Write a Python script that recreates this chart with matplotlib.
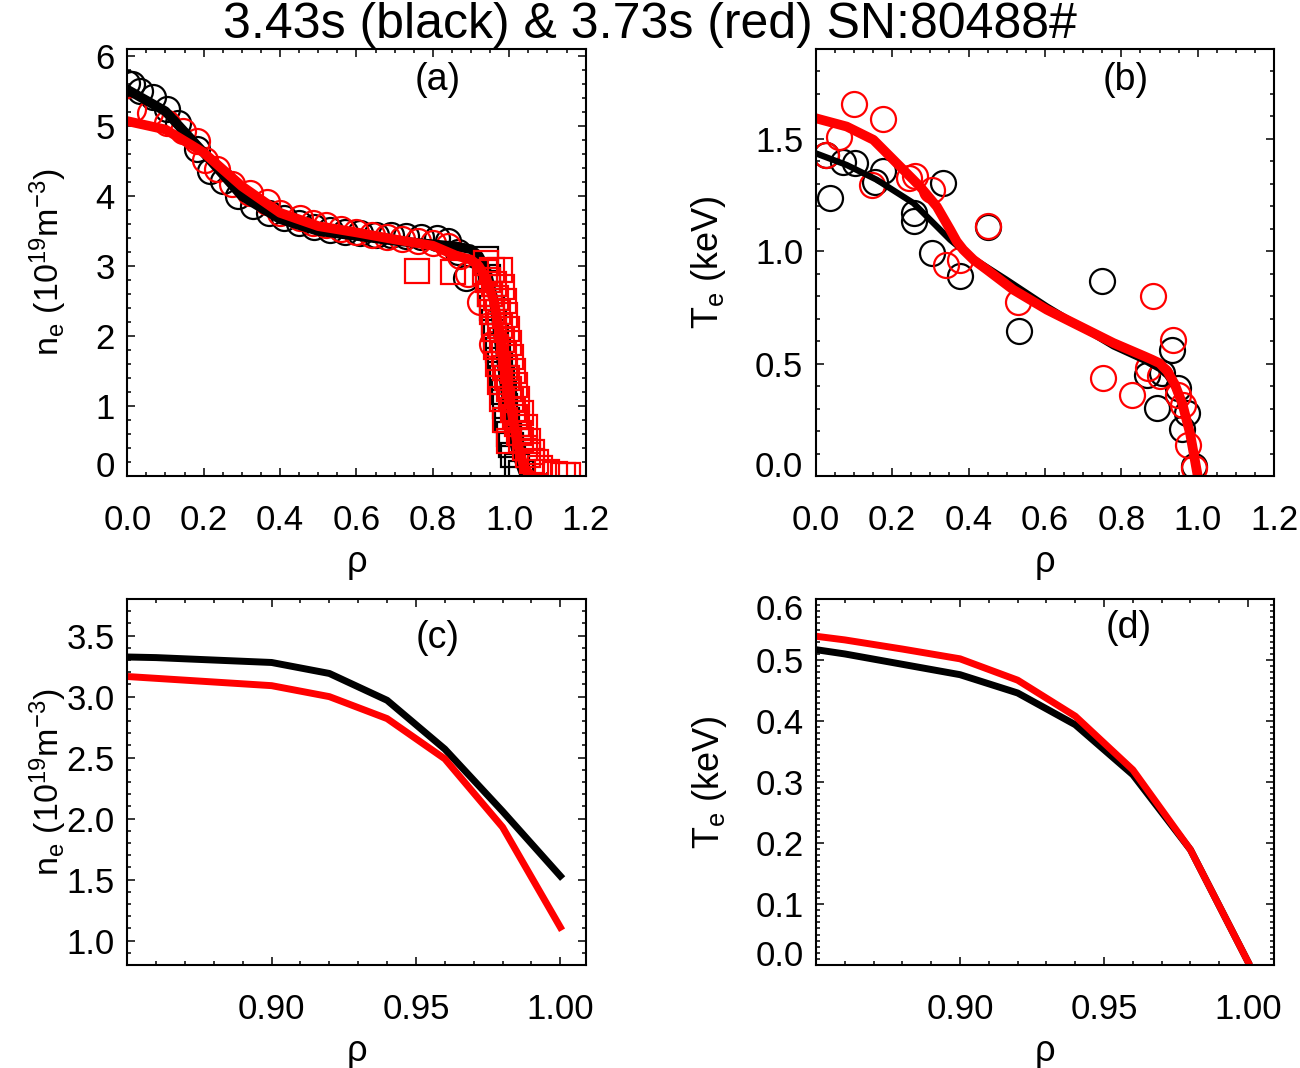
import numpy as np
import matplotlib
matplotlib.use('Agg')
import matplotlib.pyplot as plt
import matplotlib.transforms as mtransforms
from matplotlib.ticker import MultipleLocator, FormatStrFormatter

plt.rcParams['font.family'] = ['Liberation Sans', 'DejaVu Sans']
plt.rcParams['mathtext.fontset'] = 'custom'
plt.rcParams['mathtext.rm'] = 'Liberation Sans'
plt.rcParams['mathtext.it'] = 'Liberation Sans:italic'
plt.rcParams['mathtext.bf'] = 'Liberation Sans:bold'

RED = '#ff0000'

# ---------------- (a) density profile ----------------
ne_blk_circ_rho = [0.0, 0.012, 0.033, 0.068, 0.103, 0.134, 0.182, 0.216, 0.25, 0.29,
                   0.33, 0.37, 0.41, 0.45, 0.49, 0.53, 0.57, 0.61, 0.65, 0.69,
                   0.73, 0.77, 0.81, 0.84, 0.865, 0.888]
ne_blk_circ_val = [5.62, 5.60, 5.50, 5.41, 5.24, 5.05, 4.67, 4.36, 4.22, 4.00,
                   3.86, 3.76, 3.69, 3.62, 3.56, 3.52, 3.49, 3.47, 3.45, 3.44,
                   3.43, 3.42, 3.40, 3.36, 3.20, 2.83]
ne_red_circ_rho = [0.016, 0.059, 0.103, 0.147, 0.182, 0.203, 0.234, 0.273, 0.321, 0.365,
                   0.40, 0.452, 0.487, 0.52, 0.56, 0.60, 0.64, 0.68, 0.72, 0.76,
                   0.80, 0.84, 0.87, 0.893, 0.923, 0.954]
ne_red_circ_val = [5.24, 5.19, 5.05, 4.93, 4.79, 4.52, 4.38, 4.17, 4.05, 3.91,
                   3.76, 3.69, 3.62, 3.58, 3.53, 3.49, 3.45, 3.42, 3.39, 3.36,
                   3.33, 3.28, 3.15, 2.88, 2.48, 1.88]

ne_blk_sq_rho = [0.94, 0.945, 0.95, 0.955, 0.96, 0.965, 0.97, 0.975, 0.98, 0.985,
                 0.99, 0.995, 1.0, 1.005, 1.01, 1.02, 1.03]
ne_blk_sq_val = [3.10, 2.85, 2.60, 2.40, 2.20, 2.00, 1.80, 1.60, 1.40, 1.20,
                 1.00, 0.80, 0.60, 0.45, 0.30, 0.15, 0.05]
ne_red_sq_rho = [0.759, 0.853, 0.936, 0.955, 0.96, 0.965, 0.97, 0.975, 0.98, 0.985,
                 0.99, 0.995, 1.0, 1.005, 1.01, 1.015, 1.02, 1.025, 1.03, 1.04,
                 1.05, 1.06, 1.08, 1.10, 1.12, 1.14, 1.155,
                 0.975, 0.98, 0.985, 0.99, 0.995, 1.0, 1.005, 1.01, 1.015, 1.02,
                 1.03, 1.04, 1.05, 1.06, 1.07,
                 0.94, 0.945, 0.95, 0.955, 0.96, 0.965, 0.97, 0.975, 0.98, 0.99, 1.0]
ne_red_sq_val = [2.93, 2.91, 2.91, 2.95, 2.75, 2.55, 2.35, 2.15, 1.95, 1.75,
                 1.55, 1.40, 1.25, 1.10, 0.95, 0.85, 0.75, 0.62, 0.52, 0.40,
                 0.30, 0.22, 0.12, 0.06, 0.03, 0.02, 0.02,
                 2.95, 2.70, 2.50, 2.30, 2.10, 1.90, 1.70, 1.50, 1.30, 1.10,
                 0.90, 0.70, 0.50, 0.35, 0.20,
                 3.05, 2.80, 2.60, 2.35, 2.10, 1.85, 1.60, 1.35, 1.10, 0.80, 0.50]

ne_blk_fit_rho = [0.0, 0.1, 0.2, 0.3, 0.4, 0.5, 0.6, 0.7, 0.8, 0.86, 0.9, 0.92,
                  0.94, 0.96, 0.98, 1.0, 1.02, 1.04]
ne_blk_fit_val = [5.52, 5.21, 4.62, 4.00, 3.67, 3.50, 3.43, 3.36, 3.31, 3.28, 3.24, 3.15,
                  2.95, 2.50, 1.60, 0.80, 0.30, 0.0]
ne_red_fit_rho = [0.0, 0.1, 0.2, 0.3, 0.4, 0.5, 0.6, 0.7, 0.8, 0.86, 0.9, 0.92,
                  0.94, 0.96, 0.98, 1.0, 1.02, 1.04, 1.06]
ne_red_fit_val = [5.07, 4.95, 4.62, 4.14, 3.76, 3.57, 3.48, 3.38, 3.29, 3.15, 3.09, 3.00,
                  2.82, 2.49, 1.93, 1.11, 0.50, 0.10, 0.0]

# ---------------- (b) temperature profile ----------------
te_blk_circ_rho = [0.026, 0.037, 0.072, 0.103, 0.155, 0.177, 0.256, 0.256, 0.304, 0.334,
                   0.378, 0.452, 0.533, 0.749, 0.866, 0.893, 0.906, 0.932, 0.949, 0.971,
                   0.958, 0.989]
te_blk_circ_val = [1.429, 1.236, 1.399, 1.392, 1.310, 1.355, 1.170, 1.133, 0.992, 1.303,
                   0.888, 1.110, 0.644, 0.866, 0.451, 0.303, 0.459, 0.562, 0.392, 0.281,
                   0.207, 0.044]
te_red_circ_rho = [0.026, 0.060, 0.099, 0.176, 0.147, 0.243, 0.260, 0.304, 0.341, 0.378,
                   0.452, 0.529, 0.753, 0.829, 0.882, 0.871, 0.901, 0.936, 0.949, 0.962,
                   0.975, 0.989]
te_red_circ_val = [1.429, 1.510, 1.656, 1.589, 1.296, 1.325, 1.335, 1.273, 0.940, 0.962,
                   1.112, 0.774, 0.436, 0.362, 0.799, 0.481, 0.444, 0.607, 0.362, 0.318,
                   0.140, 0.036]

te_blk_fit_rho = [0.0, 0.081, 0.160, 0.256, 0.352, 0.404, 0.5, 0.605, 0.692, 0.779,
                  0.86, 0.88, 0.90, 0.92, 0.94, 0.96, 0.98, 1.0]
te_blk_fit_val = [1.436, 1.384, 1.318, 1.214, 1.051, 0.977, 0.873, 0.755, 0.666, 0.577,
                  0.514, 0.495, 0.476, 0.446, 0.394, 0.312, 0.189, 0.005]
te_red_fit_rho = [0.0, 0.081, 0.151, 0.212, 0.273, 0.317, 0.352, 0.369, 0.386, 0.413,
                  0.448, 0.517, 0.605, 0.692, 0.779, 0.86, 0.88, 0.90, 0.92, 0.94,
                  0.96, 0.98, 1.0]
te_red_fit_val = [1.592, 1.555, 1.496, 1.392, 1.288, 1.199, 1.096, 1.044, 1.007, 0.962,
                  0.918, 0.829, 0.740, 0.666, 0.592, 0.533, 0.518, 0.502, 0.467, 0.408,
                  0.320, 0.189, 0.0]

# ---------------- (c), (d) edge zoom ----------------
edge_rho = [0.84, 0.86, 0.88, 0.90, 0.92, 0.94, 0.96, 0.98, 1.00]
ne_edge_blk = [3.33, 3.32, 3.30, 3.28, 3.19, 2.97, 2.57, 2.06, 1.53]
ne_edge_red = [3.18, 3.15, 3.12, 3.09, 3.00, 2.82, 2.49, 1.93, 1.11]
te_edge_blk = [0.524, 0.510, 0.493, 0.476, 0.446, 0.394, 0.312, 0.189, 0.005]
te_edge_red = [0.545, 0.533, 0.518, 0.502, 0.467, 0.408, 0.320, 0.189, 0.005]


# ============= PLOTTING ==============
fig = plt.figure(figsize=(13, 10.68), dpi=100)

ax_a = fig.add_axes([0.0979, 0.5543, 0.3526, 0.3998])
ax_b = fig.add_axes([0.6275, 0.5543, 0.3526, 0.3998])
ax_c = fig.add_axes([0.0979, 0.0964, 0.3531, 0.3427])
ax_d = fig.add_axes([0.6277, 0.0964, 0.3523, 0.3427])

circ = dict(ls='none', marker='o', mfc='none', ms=18, mew=1.6)
sq = dict(ls='none', marker='s', mfc='none', ms=17, mew=1.6)

# (a)
ax_a.plot(ne_blk_circ_rho, ne_blk_circ_val, mec='k', **circ)
ax_a.plot(ne_blk_sq_rho, ne_blk_sq_val, mec='k', **sq)
ax_a.plot(ne_red_circ_rho, ne_red_circ_val, mec=RED, **circ)
ax_a.plot(ne_blk_fit_rho, ne_blk_fit_val, color='k', lw=7)
ax_a.plot(ne_red_sq_rho, ne_red_sq_val, mec=RED, **sq)
ax_a.plot(ne_red_fit_rho, ne_red_fit_val, color=RED, lw=7)

# (b)
ax_b.plot(te_blk_circ_rho, te_blk_circ_val, mec='k', **circ)
ax_b.plot(te_red_circ_rho, te_red_circ_val, mec=RED, **circ)
ax_b.plot(te_blk_fit_rho, te_blk_fit_val, color='k', lw=4.5)
ax_b.plot(te_red_fit_rho, te_red_fit_val, color=RED, lw=7)

# (c), (d)
ax_c.plot(edge_rho, ne_edge_blk, color='k', lw=5)
ax_c.plot(edge_rho, ne_edge_red, color=RED, lw=5)
ax_d.plot(edge_rho, te_edge_blk, color='k', lw=5)
ax_d.plot(edge_rho, te_edge_red, color=RED, lw=5)

ax_a.set_xlim(0, 1.2)
ax_a.set_ylim(0, 6.1)
ax_b.set_xlim(0, 1.2)
ax_b.set_ylim(0, 1.9)
ax_c.set_xlim(0.85, 1.009)
ax_c.set_ylim(0.8, 3.8)
ax_d.set_xlim(0.85, 1.009)
ax_d.set_ylim(0, 0.6)

ax_a.set_xticks(np.arange(0, 1.21, 0.2))
ax_b.set_xticks(np.arange(0, 1.21, 0.2))
ax_a.set_yticks(np.arange(0, 6.1, 1))
ax_b.set_yticks([0, 0.5, 1.0, 1.5])
ax_c.set_xticks([0.90, 0.95, 1.00])
ax_d.set_xticks([0.90, 0.95, 1.00])
ax_c.set_yticks(np.arange(1.0, 3.51, 0.5))
ax_d.set_yticks(np.arange(0, 0.61, 0.1))

ax_a.xaxis.set_minor_locator(MultipleLocator(0.05))
ax_b.xaxis.set_minor_locator(MultipleLocator(0.05))
ax_a.yaxis.set_minor_locator(MultipleLocator(0.2))
ax_b.yaxis.set_minor_locator(MultipleLocator(0.1))
ax_c.xaxis.set_minor_locator(MultipleLocator(0.01))
ax_d.xaxis.set_minor_locator(MultipleLocator(0.01))
ax_c.yaxis.set_minor_locator(MultipleLocator(0.1))
ax_d.yaxis.set_minor_locator(MultipleLocator(0.01))

ax_a.xaxis.set_major_formatter(FormatStrFormatter('%.1f'))
ax_b.xaxis.set_major_formatter(FormatStrFormatter('%.1f'))
ax_a.yaxis.set_major_formatter(FormatStrFormatter('%d'))
ax_b.yaxis.set_major_formatter(FormatStrFormatter('%.1f'))
ax_c.xaxis.set_major_formatter(FormatStrFormatter('%.2f'))
ax_d.xaxis.set_major_formatter(FormatStrFormatter('%.2f'))
ax_c.yaxis.set_major_formatter(FormatStrFormatter('%.1f'))
ax_d.yaxis.set_major_formatter(FormatStrFormatter('%.1f'))

ylabels = [r'n$_{\rm e}$ (10$^{19}$m$^{-3}$)', r'T$_{\rm e}$ (keV)',
           r'n$_{\rm e}$ (10$^{19}$m$^{-3}$)', r'T$_{\rm e}$ (keV)']
ylab_size = [24.5, 26, 24.5, 26]
ylab_x = [-0.127, -0.191, -0.127, -0.191]
tags = ['(a)', '(b)', '(c)', '(d)']
tag_xy = [(0.678, 0.927), (0.677, 0.927), (0.677, 0.893), (0.682, 0.92)]

for i, ax in enumerate([ax_a, ax_b, ax_c, ax_d]):
    for s in ax.spines.values():
        s.set_linewidth(1.5)
    ax.tick_params(which='both', direction='in', top=True, right=True, width=1.1)
    ax.tick_params(which='major', length=5.5, labelsize=25)
    ax.tick_params(which='minor', length=3)
    ax.tick_params(axis='x', which='major', pad=20)
    ax.tick_params(axis='y', which='major', pad=9)
    ax.set_xlabel('ρ', fontsize=26)
    ax.set_ylabel(ylabels[i], fontsize=ylab_size[i])
    ax.yaxis.set_label_coords(ylab_x[i], 0.5)
    ax.xaxis.labelpad = 6
    ax.text(tag_xy[i][0], tag_xy[i][1], tags[i], transform=ax.transAxes,
            ha='center', va='center', fontsize=27)

# Nudge edge tick labels inward, the way the original plot does
def nudge(label, dy):
    off = mtransforms.ScaledTranslation(0, dy / 100.0, fig.dpi_scale_trans)
    label.set_transform(label.get_transform() + off)

for ax in [ax_a, ax_b, ax_d]:
    nudge(ax.yaxis.get_major_ticks()[0].label1, 12)
nudge(ax_d.yaxis.get_major_ticks()[-1].label1, -8)

fig.text(0.5, 1 - 38 / 1068, '3.43s (black) & 3.73s (red) SN:80488#',
         ha='center', va='baseline', fontsize=36)

plt.savefig('out.png', dpi=100)
plt.close()
